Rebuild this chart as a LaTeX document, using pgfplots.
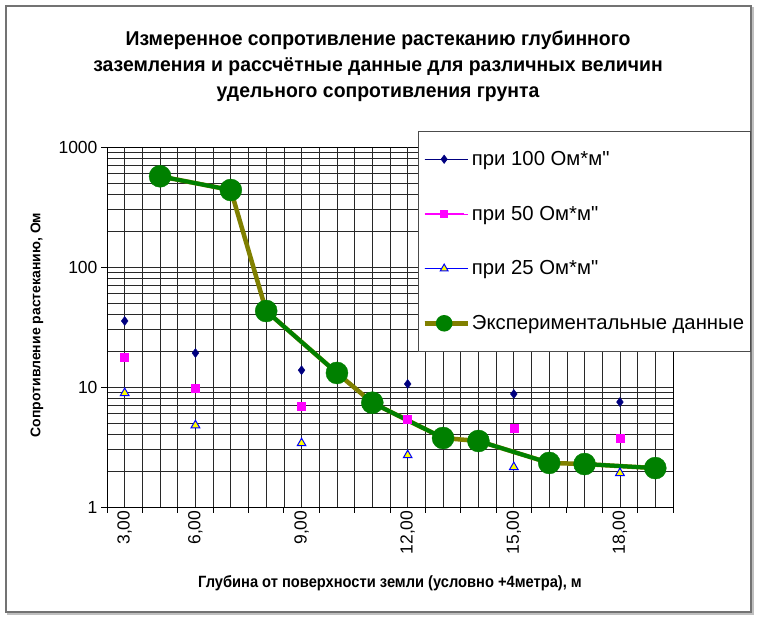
\documentclass[border=0pt]{standalone}
\usepackage{fontspec}
\setmainfont{Liberation Sans}
\newfontfamily\titlefont[FakeStretch=0.97]{Liberation Sans}
\newfontfamily\xlabfont[FakeStretch=0.9]{Liberation Sans}
\usepackage{pgfplots}
\pgfplotsset{compat=1.18}
\definecolor{navyc}{RGB}{0,0,128}
\definecolor{magc}{RGB}{255,0,255}
\definecolor{bluec}{RGB}{0,0,255}
\definecolor{yelc}{RGB}{255,255,0}
\definecolor{greenc}{RGB}{0,128,0}
\definecolor{olivec}{RGB}{128,128,0}
\definecolor{gridc}{RGB}{40,40,40}
\begin{document}
\begin{tikzpicture}[x=1pt,y=1pt]
\path[fill=white] (0,0) rectangle (758,-619);
\draw[black!25, line width=2pt] (8,-8) rectangle (753,-614);
\draw[black!55, line width=1.2pt, fill=white] (6,-6) rectangle (751,-612);
\begin{axis}[
  at={(107pt,-507pt)}, anchor=south west,
  scale only axis, width=566pt, height=360pt,
  ymode=log, ymin=1, ymax=1000,
  xmin=-0.5, xmax=15.5,
  xtick={-0.5,0.5,...,15.5}, xticklabels={},
  minor xtick={0,...,15},
  ytick={1,10,100,1000}, yticklabels={1,10,100,1000},
  minor ytick={2,3,4,5,6,7,8,9,20,30,40,50,60,70,80,90,200,300,400,500,600,700,800,900},
  extra x ticks={0,2,5,8,11,14},
  extra x tick labels={{3,00},{6,00},{9,00},{12,00},{15,00},{18,00}},
  extra x tick style={major tick length=0pt, xticklabel style={rotate=90, anchor=east}},
  xmajorgrids, xminorgrids, ymajorgrids, yminorgrids,
  major grid style={gridc, line width=0.7pt},
  minor grid style={gridc, line width=0.7pt},
  tick align=outside, major tick length=6pt, minor tick length=0pt,
  xtick pos=bottom, ytick pos=left,
  tick style={black, line width=0.8pt},
  axis line style={black, line width=0.8pt},
  /pgf/number format/assume math mode=true,
  ticklabel style={font=\fontsize{17.5}{20}\selectfont},
  title={Измеренное сопротивление растеканию глубинного\\заземления и рассчётные данные для различных величин\\удельного сопротивления грунта},
  title style={at={(axis description cs:0.4788,1.2083)}, anchor=center, align=center, font=\titlefont\bfseries\fontsize{20}{26}\selectfont},
  xlabel={Глубина от поверхности земли (условно +4метра), м},
  xlabel style={at={(axis description cs:0.5,-0.2111)}, anchor=center, font=\xlabfont\bfseries\fontsize{16.3}{19}\selectfont},
  ylabel={Сопротивление растеканию, Ом},
  ylabel style={at={(axis description cs:-0.1237,0.5056)}, anchor=center, rotate=0, font=\bfseries\fontsize{14}{17}\selectfont},
  legend style={at={(0.5495,1.0444)}, anchor=north west, draw=black!70, line width=0.8pt, fill=white,
    font=\fontsize{20.3}{23}\selectfont, row sep=35pt, inner ysep=18pt, inner xsep=4pt},
  legend cell align=left,
]
\addplot[only marks, mark=diamond*, mark size=4.5pt, color=navyc,
  legend image code/.code={\path (0pt,0pt) -- (43pt,0pt); \draw[navyc, line width=1pt] (0pt,0pt) -- (39pt,0pt); \draw[navyc, fill=navyc] plot[mark=diamond*, mark size=4pt] coordinates {(19.5pt,0pt)};}]
  coordinates {(0,35.5)(2,19.2)(5,13.8)(8,10.6)(11,8.75)(14,7.5)};
\addlegendentry{при 100 Ом*м\textquotedbl}
\addplot[only marks, mark=square*, mark size=4pt, color=magc,
  legend image code/.code={\path (0pt,0pt) -- (43pt,0pt); \draw[magc, line width=1pt] (0pt,0pt) -- (39pt,0pt); \draw[magc, fill=magc] plot[mark=square*, mark size=3.5pt] coordinates {(19.5pt,0pt)};}]
  coordinates {(0,17.8)(2,9.8)(5,6.95)(8,5.4)(11,4.55)(14,3.76)};
\addlegendentry{при 50 Ом*м\textquotedbl}
\addplot[only marks, mark=triangle*, mark size=5pt, draw=bluec, fill=yelc, line width=1pt,
  legend image code/.code={\path (0pt,0pt) -- (43pt,0pt); \draw[bluec, line width=1pt] (0pt,0pt) -- (39pt,0pt); \draw[bluec, fill=yelc, line width=1pt] plot[mark=triangle*, mark size=4.5pt] coordinates {(19.5pt,0pt)};}]
  coordinates {(0,8.9)(2,4.8)(5,3.4)(8,2.7)(11,2.15)(14,1.92)};
\addlegendentry{при 25 Ом*м\textquotedbl}
\addplot[olivec, line width=4.5pt, mark=none,
  legend image code/.code={\path (0pt,0pt) -- (43pt,0pt); \draw[olivec, line width=4.5pt] (0pt,0pt) -- (39pt,0pt); \draw[greenc, fill=greenc] plot[mark=*, mark size=6pt] coordinates {(19.5pt,0pt)};}]
  coordinates {(1,570)(3,438)(4,43)(6,13.1)(7,7.4)(9,3.76)(10,3.55)(12,2.33)(13,2.28)(15,2.11)};
\addlegendentry{Экспериментальные данные}
\addplot[greenc, line width=4pt, mark=none, unbounded coords=jump, forget plot]
  coordinates {(1,570)(3,438) (3.5,nan) (4,43)(6,13.1) (6.5,nan) (7,7.4)(9,3.76) (9.5,nan) (10,3.55)(12,2.33) (12.5,nan) (13,2.28)(15,2.11)};
\addplot[only marks, mark=*, mark size=11pt, color=greenc, forget plot]
  coordinates {(1,570)(3,438)(4,43)(6,13.1)(7,7.4)(9,3.76)(10,3.55)(12,2.33)(13,2.28)(15,2.11)};
\end{axis}
\end{tikzpicture}
\end{document}
